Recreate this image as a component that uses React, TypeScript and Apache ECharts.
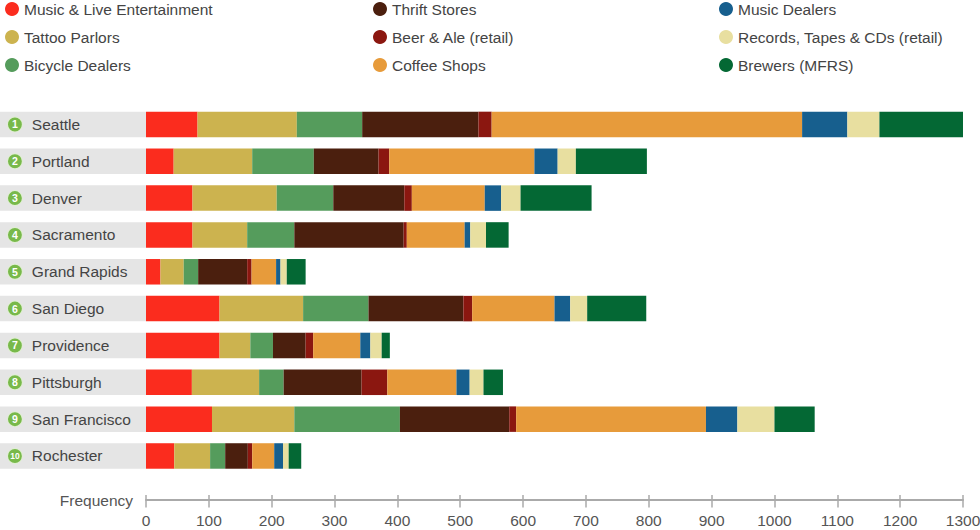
import React, { useEffect, useRef } from "react";
import * as echarts from "echarts";

const cities = ["Seattle", "Portland", "Denver", "Sacramento", "Grand Rapids", "San Diego", "Providence", "Pittsburgh", "San Francisco", "Rochester"];

const seriesNames = [
  "Music & Live Entertainment",
  "Tattoo Parlors",
  "Bicycle Dealers",
  "Thrift Stores",
  "Beer & Ale (retail)",
  "Coffee Shops",
  "Music Dealers",
  "Records, Tapes & CDs (retail)",
  "Brewers (MFRS)",
];

const musicLive = [82, 44, 74, 74, 23, 117, 117, 73, 105, 45];
const tattoo = [158, 125, 134, 87, 37, 133, 49, 107, 131, 57];
const bicycle = [104, 98, 90, 75, 23, 104, 36, 39, 168, 24];
const thrift = [185, 103, 113, 174, 78, 151, 52, 124, 174, 36];
const beer = [21, 17, 12, 5, 7, 14, 12, 41, 11, 7];
const coffee = [494, 231, 116, 92, 39, 131, 75, 110, 302, 35];
const musicDealers = [72, 37, 26, 9, 7, 25, 16, 21, 50, 14];
const records = [51, 29, 31, 25, 10, 27, 18, 22, 59, 9];
const brewers = [133, 113, 113, 36, 30, 94, 13, 31, 64, 20];

const seriesData = [musicLive, tattoo, bicycle, thrift, beer, coffee, musicDealers, records, brewers];

const colors = ["#fb2c1e", "#ccb34f", "#559c5c", "#4b1f0e", "#8b1710", "#e79b3b", "#175f8e", "#e8dfa0", "#046834"];

const FONT = "'Liberation Sans', Arial, Helvetica, sans-serif";

export default function App() {
  const ref = useRef<HTMLDivElement>(null);

  useEffect(() => {
    if (!ref.current) return;
    const chart = echarts.init(ref.current, undefined, { renderer: "svg" });

    const legendCommon = {
      orient: "vertical" as const,
      top: 1,
      padding: 0,
      icon: "circle",
      itemWidth: 14,
      itemHeight: 14,
      itemGap: 12,
      selectedMode: false,
      textStyle: { fontSize: 15.5, color: "#444", fontFamily: FONT, lineHeight: 16 },
    };

    const rankBase = {
      borderRadius: 8,
      backgroundColor: "#78b94a",
      borderColor: "#e0eed3",
      borderWidth: 1,
      color: "#fff",
      fontWeight: "bold",
      align: "left",
      verticalAlign: "middle",
      fontFamily: FONT,
    };

    const gridTop = 106;
    const gridBottom = 55.6;

    const option = {
      animation: false,
      color: colors,
      textStyle: { fontFamily: FONT },
      legend: [
        { ...legendCommon, left: 5, data: seriesNames.slice(0, 3) },
        { ...legendCommon, left: 373, data: seriesNames.slice(3, 6) },
        { ...legendCommon, left: 719, data: seriesNames.slice(6, 9) },
      ],
      grid: [
        { left: 146, right: 17, top: gridTop, bottom: gridBottom, containLabel: false, outerBoundsMode: "none" },
        { left: 0, width: 146, top: gridTop, bottom: gridBottom, containLabel: false, outerBoundsMode: "none" },
      ],
      xAxis: [
        {
          type: "value",
          gridIndex: 0,
          min: 0,
          max: 1300,
          interval: 100,
          position: "bottom",
          offset: 25.6,
          name: "Frequency",
          nameLocation: "start",
          nameGap: 13,
          nameTextStyle: { fontSize: 15.5, color: "#555", fontFamily: FONT, verticalAlign: "middle" },
          axisLine: { show: true, lineStyle: { color: "#aaa", width: 2 } },
          axisTick: { show: true, inside: false, length: 7.5, lineStyle: { color: "#aaa", width: 1.5 } },
          axisLabel: {
            margin: 12,
            fontSize: 15.5,
            color: "#555",
            fontFamily: FONT,
            formatter: (v: number) => String(v),
          },
          splitLine: { show: false },
        },
        {
          type: "value",
          gridIndex: 0,
          min: 0,
          max: 1300,
          interval: 100,
          position: "top",
          offset: -394,
          axisLine: { show: false },
          axisTick: { show: true, inside: false, length: 5, lineStyle: { color: "#aaa", width: 1.5 } },
          axisLabel: { show: false },
          splitLine: { show: false },
        },
        {
          type: "value",
          gridIndex: 1,
          min: 0,
          max: 1,
          show: false,
        },
      ],
      yAxis: [
        {
          type: "category",
          gridIndex: 0,
          inverse: true,
          data: cities,
          z: 4,
          axisLine: { show: false },
          axisTick: { show: false },
          axisLabel: {
            margin: 146,
            align: "left",
            verticalAlign: "middle",
            padding: [0, 0, 0, 8],
            formatter: (value: string, index: number) => `{${index < 9 ? "r" : "r2"}|${index + 1}}{n|${value}}`,
            rich: {
              r: { ...rankBase, fontSize: 10.5, lineHeight: 10.5, padding: [1.5, 4, 1.5, 4] },
              r2: { ...rankBase, fontSize: 8.5, lineHeight: 8.5, padding: [2.5, 2.2, 2.5, 2.2] },
              n: {
                fontSize: 15.5,
                lineHeight: 25.5,
                color: "#444",
                align: "left",
                verticalAlign: "middle",
                padding: [0, 0, 0, 10],
                fontFamily: FONT,
              },
            },
          },
        },
        {
          type: "category",
          gridIndex: 1,
          inverse: true,
          data: cities,
          show: false,
        },
      ],
      series: [
        {
          name: "labelBackground",
          type: "bar",
          xAxisIndex: 2,
          yAxisIndex: 1,
          barWidth: 25.5,
          z: 1,
          silent: true,
          data: cities.map(() => 1),
          itemStyle: { color: "#e5e5e5" },
          emphasis: { disabled: true },
        },
        ...seriesNames.map((name, i) => ({
          name,
          type: "bar",
          stack: "total",
          barWidth: 25.5,
          z: 5,
          data: seriesData[i],
          itemStyle: { color: colors[i] },
          emphasis: { disabled: true },
        })),
      ],
    };

    chart.setOption(option as any);
    return () => chart.dispose();
  }, []);

  return (
    <div
      ref={ref}
      style={{ position: "absolute", left: 0, top: 0, width: 980, height: 530, background: "#fff" }}
    />
  );
}
